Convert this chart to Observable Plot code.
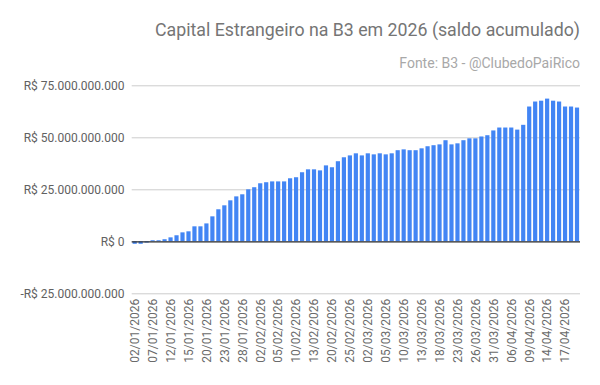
<!DOCTYPE html>
<html>
<head>
<meta charset="utf-8">
<script src="https://cdn.jsdelivr.net/npm/d3@7"></script>
<script src="https://cdn.jsdelivr.net/npm/@observablehq/plot@0.6"></script>
<style>
  html, body { margin: 0; padding: 0; background: #fff; }
  body { width: 600px; height: 385px; position: relative; overflow: hidden; font-family: Roboto, sans-serif; }
  #header { position: relative; width: 600px; height: 75px; }
  #title { position: absolute; right: 20px; top: 21.8px; font-size: 17.75px; line-height: 17.75px; color: #757575; white-space: nowrap; }
  #subtitle { position: absolute; right: 20px; top: 55.5px; font-size: 14px; line-height: 14px; color: #a8a8a8; white-space: nowrap; }
  #chart svg { display: block; }
</style>
</head>
<body>
<div id="header">
  <div id="title">Capital Estrangeiro na B3 em 2026 (saldo acumulado)</div>
  <div id="subtitle">Fonte: B3 - @ClubedoPaiRico</div>
</div>
<div id="chart"></div>
<script>
const dates = [
  "02/01/2026","05/01/2026","06/01/2026","07/01/2026","08/01/2026","09/01/2026","12/01/2026","13/01/2026","14/01/2026","15/01/2026",
  "16/01/2026","19/01/2026","20/01/2026","21/01/2026","22/01/2026","23/01/2026","26/01/2026","27/01/2026","28/01/2026","29/01/2026",
  "30/01/2026","02/02/2026","03/02/2026","04/02/2026","05/02/2026","06/02/2026","09/02/2026","10/02/2026","11/02/2026","12/02/2026",
  "13/02/2026","18/02/2026","19/02/2026","20/02/2026","23/02/2026","24/02/2026","25/02/2026","26/02/2026","27/02/2026","02/03/2026",
  "03/03/2026","04/03/2026","05/03/2026","06/03/2026","09/03/2026","10/03/2026","11/03/2026","12/03/2026","13/03/2026","16/03/2026",
  "17/03/2026","18/03/2026","19/03/2026","20/03/2026","23/03/2026","24/03/2026","25/03/2026","26/03/2026","27/03/2026","30/03/2026",
  "31/03/2026","01/04/2026","02/04/2026","06/04/2026","07/04/2026","08/04/2026","09/04/2026","10/04/2026","13/04/2026","14/04/2026",
  "15/04/2026","16/04/2026","17/04/2026","20/04/2026","22/04/2026"
];

// saldo acumulado, em bilhões de R$
const saldo = [
  -1.2, -1.2, -0.6, 0.5, 0.5, 1.0, 1.9, 2.9, 4.3, 4.8,
  7.2, 7.2, 8.6, 12.0, 15.4, 17.3, 19.7, 21.6, 22.6, 25.0,
  26.0, 27.9, 28.4, 28.8, 28.8, 28.8, 30.3, 30.8, 33.2, 34.6,
  34.6, 34.1, 36.5, 35.6, 38.5, 40.4, 41.3, 42.3, 41.3, 42.3,
  41.8, 42.3, 41.8, 42.3, 43.8, 44.2, 43.8, 43.8, 44.7, 45.7,
  46.2, 46.6, 48.6, 46.6, 47.1, 48.6, 49.5, 49.5, 50.4, 51.0,
  53.3, 54.7, 54.7, 54.7, 53.7, 56.0, 64.8, 67.2, 67.6, 68.6,
  67.6, 67.2, 64.8, 64.8, 64.3
];

const xTickLabels = [
  "02/01/2026","07/01/2026","12/01/2026","15/01/2026","20/01/2026","23/01/2026","28/01/2026",
  "02/02/2026","05/02/2026","10/02/2026","13/02/2026","20/02/2026","25/02/2026",
  "02/03/2026","05/03/2026","10/03/2026","13/03/2026","18/03/2026","23/03/2026","26/03/2026","31/03/2026",
  "06/04/2026","09/04/2026","14/04/2026","17/04/2026"
];

const yTicks = [-25, 0, 25, 50, 75];

const data = dates.map((d, i) => ({date: d, value: saldo[i]}));

const fmtBRL = v => {
  const n = Math.round(Math.abs(v) * 1e9);
  const s = String(n).replace(/\B(?=(\d{3})+(?!\d))/g, ".");
  return (v < 0 ? "-" : "") + "R$ " + s;
};

const chart = Plot.plot({
  width: 600,
  height: 310,
  marginTop: 10.3,
  marginBottom: 91.7,
  marginLeft: 131.7,
  marginRight: 20,
  style: {fontFamily: "Roboto, sans-serif", fontSize: "12px", background: "#fff"},
  x: {type: "band", domain: dates, paddingInner: 0.3, paddingOuter: 0.15},
  y: {domain: [-25, 75]},
  marks: [
    Plot.gridY(yTicks, {stroke: "#cccccc", strokeOpacity: 1, strokeWidth: 1}),
    Plot.barY(data, {x: "date", y: "value", fill: "#4285f4"}),
    Plot.ruleY([0], {stroke: "#333333", strokeWidth: 1.3}),
    Plot.axisY(yTicks, {tickSize: 0, tickPadding: 7.7, tickFormat: fmtBRL, fill: "#616161", label: null}),
    Plot.axisX(xTickLabels, {tickSize: 0, tickPadding: 5, tickRotate: -90, fill: "#6a6a6a", label: null})
  ]
});
document.getElementById("chart").appendChild(chart);
</script>
</body>
</html>
